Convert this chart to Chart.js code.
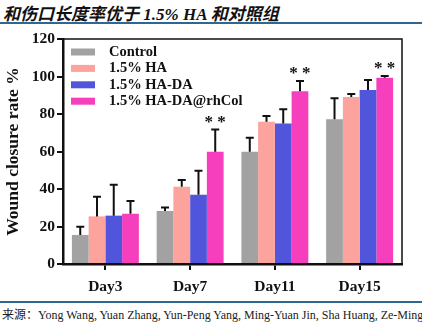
<!DOCTYPE html>
<html>
<head>
<meta charset="utf-8">
<script src="https://cdn.jsdelivr.net/npm/chart.js@4.4.1/dist/chart.umd.min.js"></script>
<style>
  html, body { margin: 0; padding: 0; background: #fff; }
  body { width: 422px; height: 333px; position: relative; overflow: hidden; }
  #title {
    position: absolute; left: 3px; top: 0px; white-space: nowrap;
    font: italic bold 17px "Liberation Serif", "Noto Sans CJK SC", serif; color: #111;
  }
  .rule { position: absolute; left: 0; width: 422px; height: 2px; background: #2f6790; }
  #source {
    position: absolute; left: 2px; top: 305px; white-space: nowrap;
    font: 12px "Liberation Serif", "Noto Sans CJK SC", serif; color: #222;
  }
  #wrap { position: absolute; left: 0; top: 0; width: 422px; height: 300px; }
</style>
</head>
<body>
<div id="title">和伤口长度率优于 1.5% HA 和对照组</div>
<div class="rule" style="top:22px"></div>
<div id="wrap"><canvas id="chart"></canvas></div>
<div class="rule" style="top:301px"></div>
<div id="source">来源：Yong Wang, Yuan Zhang, Yun-Peng Yang, Ming-Yuan Jin, Sha Huang, Ze-Ming</div>
<script>
'use strict';
// ── Data ────────────────────────────────────────────────────────────────
const DAYS   = ['Day3', 'Day7', 'Day11', 'Day15'];
const SERIES = ['Control', '1.5% HA', '1.5% HA-DA', '1.5% HA-DA@rhCol'];
const COLORS = ['#a2a2a2', '#fca39d', '#5055dc', '#f53fbd'];

const CONTROL     = [15.5, 28.3, 59.9, 77.2];
const HA          = [25.4, 41.2, 75.9, 89.1];
const HA_DA       = [25.8, 37.0, 75.0, 92.8];
const HA_DA_RHCOL = [26.8, 59.9, 92.1, 99.4];

// upper error (SD) per series
const ERR_CONTROL     = [4.4, 1.9, 7.5, 11.2];
const ERR_HA          = [10.5, 3.6, 3.0, 1.6];
const ERR_HA_DA       = [16.5, 12.8, 7.5, 5.3];
const ERR_HA_DA_RHCOL = [6.8, 11.9, 5.5, 0.9];

// significance marks on the rhCol series
const SIG_RHCOL = ['', '**', '**', '**'];

const Y_TICKS = [0, 20, 40, 60, 80, 100, 120];

const VALUES = [CONTROL, HA, HA_DA, HA_DA_RHCOL];
const ERRORS = [ERR_CONTROL, ERR_HA, ERR_HA_DA, ERR_HA_DA_RHCOL];
const SIGS   = [[], [], [], SIG_RHCOL];

const SERIF = "'Liberation Serif', 'Times New Roman', serif";

// ── Plugins ─────────────────────────────────────────────────────────────
const errorBars = {
  id: 'errorBars',
  afterDatasetsDraw(chart) {
    const { ctx } = chart;
    const y = chart.scales.y;
    ctx.save();
    ctx.strokeStyle = '#111';
    ctx.lineWidth = 2;
    chart.data.datasets.forEach((ds, di) => {
      const meta = chart.getDatasetMeta(di);
      meta.data.forEach((bar, i) => {
        const top = y.getPixelForValue(ds.data[i] + ds.err[i]);
        ctx.beginPath();
        ctx.moveTo(bar.x, bar.y);
        ctx.lineTo(bar.x, top);
        ctx.moveTo(bar.x - 4, top);
        ctx.lineTo(bar.x + 4, top);
        ctx.stroke();
        const s = ds.sig[i];
        if (s) {
          ctx.fillStyle = '#111';
          ctx.font = 'bold 17px ' + SERIF;
          ctx.textAlign = 'center';
          ctx.textBaseline = 'middle';
          ctx.fillText(s.split('').join(' '), bar.x, top - 7);
        }
      });
    });
    ctx.restore();
  }
};

const frameAndLegend = {
  id: 'frameAndLegend',
  afterDraw(chart) {
    const { ctx, chartArea: a } = chart;
    ctx.save();
    ctx.strokeStyle = '#111';
    ctx.lineWidth = 1.5;
    ctx.beginPath();
    ctx.moveTo(a.left, a.top);
    ctx.lineTo(a.right, a.top);
    ctx.lineTo(a.right, a.bottom);
    ctx.stroke();

    ctx.font = 'bold 14.5px ' + SERIF;
    ctx.textBaseline = 'middle';
    ctx.textAlign = 'left';
    chart.data.datasets.forEach((ds, i) => {
      const cy = a.top + 13 + i * 16.4;
      ctx.fillStyle = ds.backgroundColor;
      ctx.fillRect(a.left + 8, cy - 3.5, 24, 7);
      ctx.fillStyle = '#111';
      ctx.fillText(ds.label, a.left + 46, cy);
    });
    ctx.restore();
  }
};

// ── Chart ───────────────────────────────────────────────────────────────
new Chart(document.getElementById('chart'), {
  type: 'bar',
  data: {
    labels: DAYS,
    datasets: SERIES.map((name, i) => ({
      label: name,
      data: VALUES[i],
      err: ERRORS[i],
      sig: SIGS[i],
      backgroundColor: COLORS[i],
      borderWidth: 0,
      barPercentage: 1,
      categoryPercentage: 0.79,
    })),
  },
  options: {
    animation: false,
    responsive: true,
    maintainAspectRatio: false,
    layout: { padding: { top: 39, right: 20, left: 0, bottom: 0 } },
    plugins: { legend: { display: false }, tooltip: { enabled: false } },
    scales: {
      x: {
        grid: { display: true, drawOnChartArea: false, drawTicks: true, tickLength: 6, color: '#111', lineWidth: 2, offset: false },
        border: { display: true, color: '#111', width: 2.5 },
        ticks: { color: '#111', font: { family: SERIF, size: 15.5, weight: 'bold' }, padding: 8 },
        afterFit(s) { s.height = 36; },
      },
      y: {
        min: 0, max: 120,
        afterBuildTicks(s) { s.ticks = Y_TICKS.map(v => ({ value: v })); },
        grid: { display: true, drawOnChartArea: false, drawTicks: true, tickLength: 6, color: '#111', lineWidth: 2 },
        border: { display: true, color: '#111', width: 2.5 },
        ticks: { color: '#111', font: { family: SERIF, size: 15.5, weight: 'bold' }, padding: 2 },
        title: { display: true, text: 'Wound closure rate %', color: '#111',
                 font: { family: SERIF, size: 17.5, weight: 'bold' }, padding: { top: 3, bottom: 2 } },
        afterFit(s) { s.width = 63; },
      },
    },
  },
  plugins: [errorBars, frameAndLegend],
});
</script>
</body>
</html>
